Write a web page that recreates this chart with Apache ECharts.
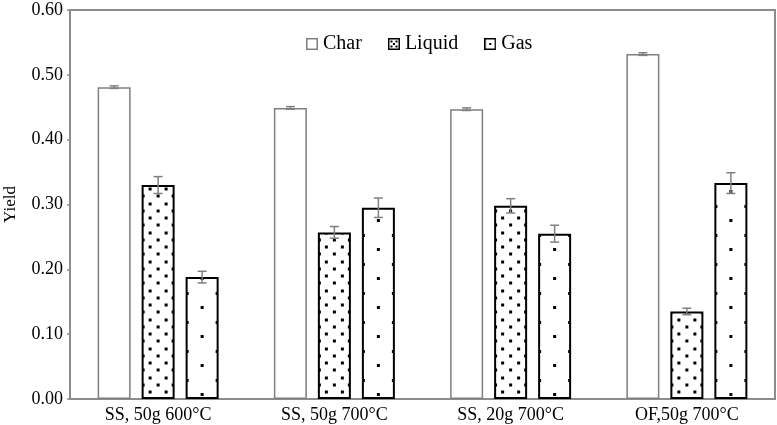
<!DOCTYPE html>
<html>
<head>
<meta charset="utf-8">
<script src="https://cdn.jsdelivr.net/npm/echarts@6/dist/echarts.min.js"></script>
<style>
  html, body { margin: 0; padding: 0; background: #fff; }
  #chart { width: 777px; height: 425px; }
</style>
</head>
<body>
<div id="chart"></div>
<script>
var categories = ['SS, 50g 600°C', 'SS, 50g 700°C', 'SS, 20g 700°C', 'OF,50g 700°C'];
var charVals = [0.481, 0.449, 0.447, 0.532];
var liquidVals = [0.330, 0.257, 0.298, 0.135];
var gasVals = [0.188, 0.295, 0.255, 0.333];
var charErr = [0.002, 0.002, 0.002, 0.002];
var liquidErr = [0.013, 0.009, 0.011, 0.005];
var gasErr = [0.009, 0.015, 0.013, 0.016];

var font = 'Liberation Serif, Times New Roman, serif';
var frameColor = '#8c8c8c';
var errColor = '#808080';
var barWidth = 33;
var gapPx = 11;

function dotTile(w, h, dots) {
  var c = document.createElement('canvas');
  c.width = w; c.height = h;
  var ctx = c.getContext('2d');
  ctx.fillStyle = '#fff';
  ctx.fillRect(0, 0, w, h);
  ctx.fillStyle = '#000';
  dots.forEach(function (d) {
    ctx.fillRect(Math.round(d[0] - 1.5), Math.round(d[1] - 1.5), 3, 3);
  });
  return c;
}

// dense dots for Liquid, sparse for Gas (tile = one bar width)
var liquidTile = dotTile(33, 29, [
  [8.25, 11], [24.75, 11], [8.25, 25.5], [24.75, 25.5],
  [1.5, 3.5], [31.5, 3.5], [16.5, 3.5], [1.5, 18], [31.5, 18], [16.5, 18]
]);
var gasTile = dotTile(33, 29, [[16.5, 24], [1.5, 10], [31.5, 10]]);

function legendIcon(border, lw, dots) {
  var c = document.createElement('canvas');
  c.width = 12; c.height = 12;
  var ctx = c.getContext('2d');
  ctx.fillStyle = '#fff';
  ctx.fillRect(0, 0, 12, 12);
  ctx.fillStyle = '#000';
  dots.forEach(function (d) { ctx.fillRect(d[0], d[1], 2, 2); });
  ctx.strokeStyle = border;
  ctx.lineWidth = lw;
  ctx.strokeRect(lw / 2, lw / 2, 12 - lw, 12 - lw);
  return 'image://' + c.toDataURL();
}

function errSeries(name, vals, errs, k) {
  return {
    type: 'custom',
    name: name,
    z: 5,
    silent: true,
    data: vals.map(function (v, i) { return [i, v - errs[i], v + errs[i]]; }),
    encode: { x: 0, y: [1, 2] },
    renderItem: function (params, api) {
      var lo = api.coord([api.value(0), api.value(1)]);
      var hi = api.coord([api.value(0), api.value(2)]);
      var x = lo[0] + k * (barWidth + gapPx);
      var hw = 4.5;
      var st = { stroke: errColor, lineWidth: 1.5 };
      return {
        type: 'group',
        children: [
          { type: 'line', shape: { x1: x, y1: lo[1], x2: x, y2: hi[1] }, style: st },
          { type: 'line', shape: { x1: x - hw, y1: hi[1], x2: x + hw, y2: hi[1] }, style: st },
          { type: 'line', shape: { x1: x - hw, y1: lo[1], x2: x + hw, y2: lo[1] }, style: st }
        ]
      };
    }
  };
}

var chart = echarts.init(document.getElementById('chart'));
var option = {
  animation: false,
  grid: {
    left: 70, right: 2, top: 10, bottom: 26,
    outerBoundsMode: 'none',
    show: true, borderColor: frameColor, borderWidth: 2
  },
  legend: {
    data: [
      { name: 'Char', icon: legendIcon('#7f7f7f', 1.5, []) },
      { name: 'Liquid', icon: legendIcon('#000', 1.5, [[2.5, 2.5], [7.5, 2.5], [5, 5], [2.5, 7.5], [7.5, 7.5]]) },
      { name: 'Gas', icon: legendIcon('#000', 1.5, [[5, 5]]) }
    ],
    left: 306, top: 33, padding: 0,
    itemWidth: 12, itemHeight: 12, itemGap: 26,
    textStyle: { fontFamily: font, fontSize: 20, color: '#000', lineHeight: 22 }
  },
  xAxis: {
    type: 'category',
    data: categories,
    axisTick: { show: false },
    axisLine: { lineStyle: { color: frameColor, width: 2 } },
    axisLabel: { fontFamily: font, fontSize: 18, color: '#000', margin: 7 }
  },
  yAxis: {
    type: 'value',
    min: 0, max: 0.6, interval: 0.1,
    name: 'Yield',
    nameLocation: 'middle',
    nameGap: 51,
    nameTextStyle: { fontFamily: font, fontSize: 17, color: '#000' },
    splitLine: { show: false },
    axisLine: { show: true, lineStyle: { color: frameColor, width: 2 } },
    axisTick: { show: true, length: 3, lineStyle: { color: frameColor, width: 1.5 } },
    axisLabel: {
      fontFamily: font, fontSize: 18, color: '#000', margin: 7,
      formatter: function (v) { return v.toFixed(2); }
    }
  },
  series: [
    {
      name: 'Char', type: 'bar', data: charVals,
      barWidth: barWidth, barGap: (gapPx / barWidth * 100) + '%',
      itemStyle: { color: '#fff', borderColor: '#7f7f7f', borderWidth: 1.5 }
    },
    {
      name: 'Liquid', type: 'bar', data: liquidVals,
      barWidth: barWidth,
      itemStyle: { color: { image: liquidTile, repeat: 'repeat' }, borderColor: '#000', borderWidth: 2 }
    },
    {
      name: 'Gas', type: 'bar', data: gasVals,
      barWidth: barWidth,
      itemStyle: { color: { image: gasTile, repeat: 'repeat' }, borderColor: '#000', borderWidth: 2 }
    },
    errSeries('errChar', charVals, charErr, -1),
    errSeries('errLiquid', liquidVals, liquidErr, 0),
    errSeries('errGas', gasVals, gasErr, 1)
  ]
};
chart.setOption(option);

// anchor each bar's dot pattern to its own left/bottom edge
function anchored(seriesIndex, vals, tile, dy) {
  var data = chart.getModel().getSeriesByIndex(seriesIndex).getData();
  return vals.map(function (v, i) {
    var l = data.getItemLayout(i);
    var bottom = Math.max(l.y, l.y + l.height);
    return {
      value: v,
      itemStyle: { color: { image: tile, repeat: 'repeat', x: l.x, y: bottom + dy } }
    };
  });
}
chart.setOption({
  series: [
    {},
    { data: anchored(1, liquidVals, liquidTile, -3.5) },
    { data: anchored(2, gasVals, gasTile, 0) }
  ]
});
</script>
</body>
</html>
